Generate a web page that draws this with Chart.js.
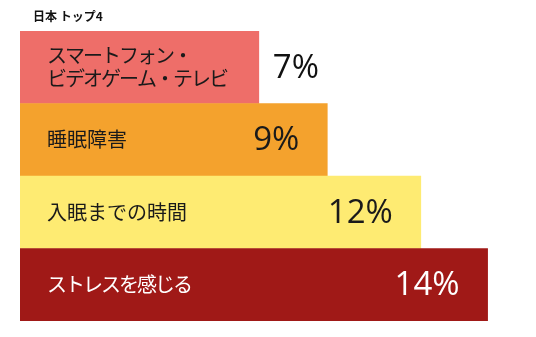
<!DOCTYPE html>
<html><head><meta charset="utf-8">
<script src="https://cdn.jsdelivr.net/npm/chart.js@4/dist/chart.umd.min.js"></script>
<style>html,body{margin:0;padding:0;background:#fff}#w{width:536px;height:337px;position:relative}</style>
</head><body><div id="w"><canvas id="c" width="536" height="337"></canvas></div>
<script>
const title = "日本 トップ4";
const categories = [["スマートフォン・","ビデオゲーム・テレビ"], ["睡眠障害"], ["入眠までの時間"], ["ストレスを感じる"]];
const values = [7.15, 9.2, 12, 14];
const valueLabels = ["7%", "9%", "12%", "14%"];
const colors = ["#EE6E69", "#F4A22D", "#FEEB72", "#A01917"];
const textColors = ["#1a1a1a", "#1a1a1a", "#1a1a1a", "#ffffff"];
const kanaSpacing = [-2, 0, 0, -2];

const CAT_FONT = '400 20px "Noto Sans CJK JP", sans-serif';
const VAL_FONT = '400 33px "Open Sans", "Noto Sans CJK JP", sans-serif';

const labelPlugin = {
  id: 'labels',
  afterDatasetsDraw(chart) {
    const ctx = chart.ctx;
    const meta = chart.getDatasetMeta(0);
    ctx.save();
    ctx.textBaseline = 'middle';
    meta.data.forEach((bar, i) => {
      const left = bar.base;
      const right = bar.x;
      const cy = bar.y;
      const lines = categories[i];
      const lh = 23;
      ctx.fillStyle = textColors[i];
      ctx.font = CAT_FONT;
      ctx.textAlign = 'left';
      ctx.letterSpacing = kanaSpacing[i] + 'px';
      let catW = 0;
      lines.forEach((ln, k) => {
        catW = Math.max(catW, ctx.measureText(ln).width);
        ctx.fillText(ln, left + 27, cy + (k - (lines.length - 1) / 2) * lh);
      });
      ctx.letterSpacing = '0px';
      ctx.font = VAL_FONT;
      const vw = ctx.measureText(valueLabels[i]).width;
      const vx = right - 28;
      if (vx - vw < left + 27 + catW + 10) {
        ctx.textAlign = 'left';
        ctx.fillStyle = '#111';
        ctx.fillText(valueLabels[i], right + 14, cy + 1);
      } else {
        ctx.textAlign = 'right';
        ctx.fillStyle = textColors[i];
        ctx.fillText(valueLabels[i], vx, cy + 1);
      }
    });
    ctx.textAlign = 'left';
    ctx.fillStyle = '#111';
    ctx.font = '700 12px "Noto Sans CJK JP", sans-serif';
    ctx.fillText(title, 33, 16);
    ctx.restore();
  }
};

new Chart(document.getElementById('c'), {
  type: 'bar',
  data: {
    labels: categories.map(c => c.join('')),
    datasets: [{ data: values, backgroundColor: colors, borderWidth: 0,
      barPercentage: 1, categoryPercentage: 1 }]
  },
  options: {
    indexAxis: 'y',
    responsive: false,
    animation: false,
    layout: { padding: { left: 20, right: 15, top: 31, bottom: 16 } },
    scales: {
      x: { display: false, min: 0, max: 15 },
      y: { display: false }
    },
    plugins: { legend: { display: false }, tooltip: { enabled: false }, title: { display: false } }
  },
  plugins: [labelPlugin]
});
</script></body></html>
